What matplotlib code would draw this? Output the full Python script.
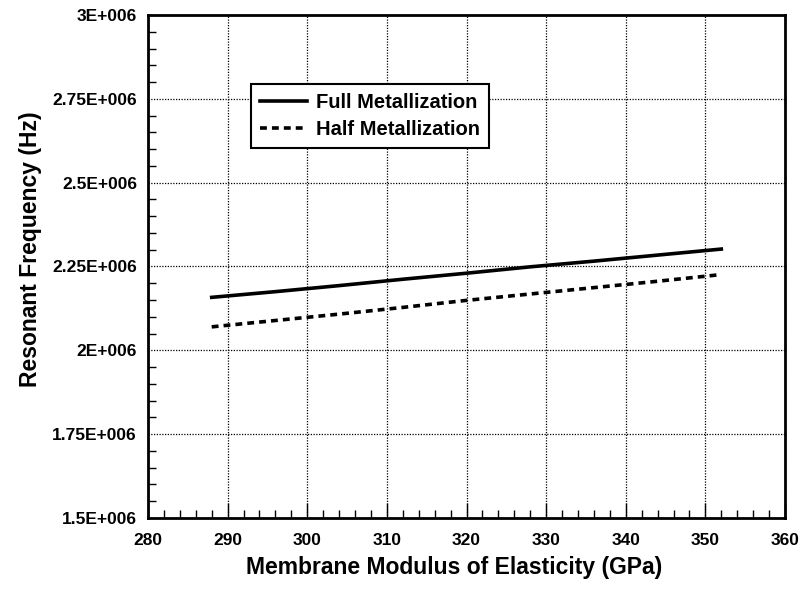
import matplotlib
matplotlib.use('Agg')
import matplotlib.pyplot as plt
from matplotlib.ticker import MultipleLocator, FuncFormatter

# modulus of elasticity (GPa) and resonant frequency (Hz)
modulus = [288, 296, 304, 312, 320, 328, 336, 344, 352]
freq_full = [2.158e6, 2.175e6, 2.193e6, 2.212e6, 2.230e6, 2.249e6, 2.266e6, 2.284e6, 2.302e6]
freq_half = [2.070e6, 2.089e6, 2.108e6, 2.128e6, 2.149e6, 2.168e6, 2.187e6, 2.206e6, 2.226e6]

plt.rcParams['font.family'] = ['Liberation Sans', 'DejaVu Sans']
plt.rcParams['font.weight'] = 'bold'

W, H = 801, 593
fig = plt.figure(figsize=(W / 100, H / 100), dpi=100)
ax = fig.add_axes([148 / W, 1 - 518 / H, (785 - 148) / W, (518 - 15) / H])

ax.plot(modulus, freq_full, color='black', lw=2.6, label='Full Metallization')
ax.plot(modulus, freq_half, color='black', lw=2.6, dashes=(1.9, 1.4), label='Half Metallization')

ax.set_xlim(280, 360)
ax.set_ylim(1.5e6, 3.0e6)
ax.xaxis.set_major_locator(MultipleLocator(10))
ax.xaxis.set_minor_locator(MultipleLocator(2))
ax.yaxis.set_major_locator(MultipleLocator(0.25e6))
ax.yaxis.set_minor_locator(MultipleLocator(0.05e6))


def sci_fmt(v, pos):
    mant = v / 1e6
    s = ('%.2f' % mant).rstrip('0').rstrip('.')
    return s + 'E+006'


ax.yaxis.set_major_formatter(FuncFormatter(sci_fmt))
ax.tick_params(which='both', direction='in', color='black')
ax.tick_params(which='major', length=0, labelsize=12.5)
ax.tick_params(axis='y', which='major', pad=8)
ax.tick_params(axis='x', which='major', length=11, width=1, pad=11)
ax.tick_params(which='minor', length=6, width=1)
for lbl in ax.get_xticklabels() + ax.get_yticklabels():
    lbl.set_fontweight('bold')

ax.grid(True, which='major', color='black', ls=(0, (1, 1.2)), lw=0.9)
for sp in ax.spines.values():
    sp.set_linewidth(2)

ax.set_xlabel('Membrane Modulus of Elasticity (GPa)', fontsize=16.5, fontweight='bold')
ax.set_ylabel('Resonant Frequency (Hz)', fontsize=16.5, fontweight='bold')
ax.xaxis.set_label_coords(0.480, -0.076)
ax.yaxis.set_label_coords(-0.166, 0.535)

leg = ax.legend(loc='upper left', bbox_to_anchor=(0.162, 0.863), fontsize=14.5,
                fancybox=False, framealpha=1, edgecolor='black', borderpad=0.45,
                handlelength=2.3, handletextpad=0.45, labelspacing=0.4, borderaxespad=0)
leg.get_frame().set_linewidth(1.5)
for t in leg.get_texts():
    t.set_fontweight('bold')

fig.savefig('out.png', dpi=100)
